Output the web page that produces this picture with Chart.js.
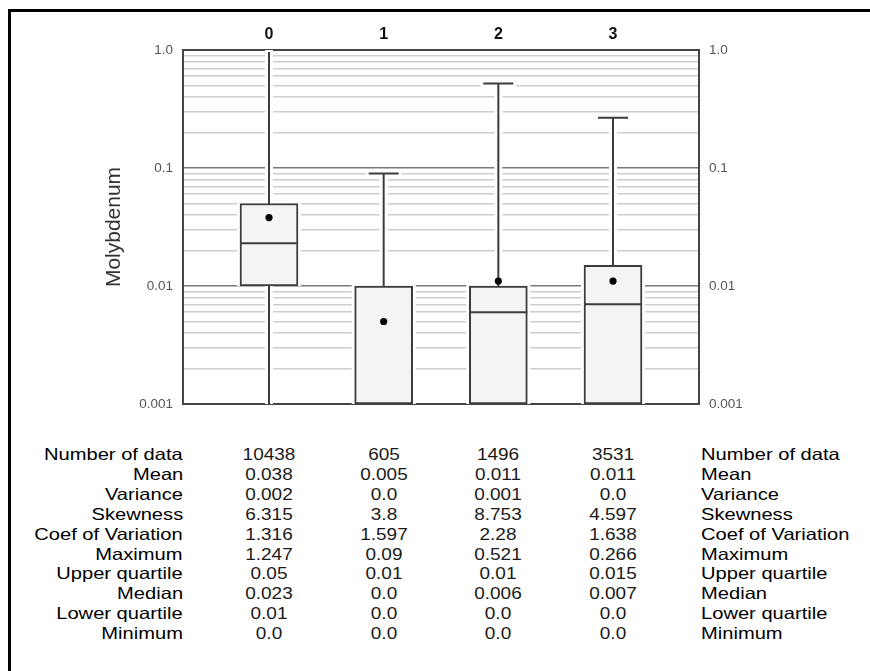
<!DOCTYPE html>
<html>
<head>
<meta charset="utf-8">
<script src="https://cdn.jsdelivr.net/npm/chart.js@4.4.1/dist/chart.umd.min.js"></script>
<style>
    html, body { margin: 0; padding: 0; background: #fff; }
    body { width: 870px; height: 671px; position: relative; overflow: hidden; font-family: "Liberation Sans", Arial, sans-serif; }
    #frame { position: absolute; left: 8px; top: 9px; width: 900px; height: 700px; border-top: 3px solid #000; border-left: 3px solid #000; }
    #chartBox { position: absolute; left: 0; top: 0; width: 870px; height: 430px; }
    .stat { position: absolute; font-size: 16.5px; color: #000; white-space: nowrap; line-height: 20px; }
    .stat.right { transform: scaleX(1.22); transform-origin: right center; }
    .stat.left { transform: scaleX(1.22); transform-origin: left center; }
    .stat.center { transform: scaleX(1.15); transform-origin: center center; color: #1a1a1a; }
</style>
</head>
<body>
<div id="frame"></div>
<div id="chartBox"><canvas id="boxChart" width="870" height="430"></canvas></div>
<div id="statTable"></div>
<script>
const categories = ["0", "1", "2", "3"];
const maximum = [1.247, 0.09, 0.521, 0.266];
const upperQuartile = [0.05, 0.01, 0.01, 0.015];
const median = [0.023, 0.0, 0.006, 0.007];
const lowerQuartile = [0.01, 0.0, 0.0, 0.0];
const minimum = [0.0, 0.0, 0.0, 0.0];
const mean = [0.038, 0.005, 0.011, 0.011];
const numberOfData = [10438, 605, 1496, 3531];
const variance = [0.002, 0.0, 0.001, 0.0];
const skewness = [6.315, 3.8, 8.753, 4.597];
const coefOfVariation = [1.316, 1.597, 2.28, 1.638];

const yTickValues = [0.001, 0.01, 0.1, 1];
const yTickLabels = ["0.001", "0.01", "0.1", "1.0"];
const yAxisTitle = "Molybdenum";

const statRows = [
    ["Number of data", numberOfData],
    ["Mean", mean],
    ["Variance", variance],
    ["Skewness", skewness],
    ["Coef of Variation", coefOfVariation],
    ["Maximum", maximum],
    ["Upper quartile", upperQuartile],
    ["Median", median],
    ["Lower quartile", lowerQuartile],
    ["Minimum", minimum],
];

Chart.defaults.font.family = "'Liberation Sans', Arial, sans-serif";

const yMin = yTickValues[0];
const yMax = yTickValues[yTickValues.length - 1];
const clampY = (v) => Math.min(Math.max(v, yMin), yMax);

// decades plus the 2..9 steps between them, for the grid
const gridValues = [];
yTickValues.forEach((decade, i) => {
    gridValues.push(decade);
    if (i < yTickValues.length - 1) {
        for (let k = 2; k <= 9; k++) gridValues.push(+(decade * k).toPrecision(3));
    }
});

function tickLabel(value) {
    const idx = yTickValues.indexOf(value);
    return idx >= 0 ? yTickLabels[idx] : "";
}

function formatStat(value, isCount) {
    if (isCount) return String(value);
    return Number.isInteger(value) ? value.toFixed(1) : String(value);
}

const BOX_WIDTH = 58;
const CAP_WIDTH = 30;
const LINE_COLOR = "#3c3c3c";

const whiskerPlugin = {
    id: "whiskers",
    beforeDatasetsDraw(chart) {
        const { ctx, chartArea, scales } = chart;
        const { x, y } = scales;
        ctx.save();
        ctx.beginPath();
        ctx.rect(chartArea.left, chartArea.top, chartArea.right - chartArea.left, chartArea.bottom - chartArea.top);
        ctx.clip();

        categories.forEach((cat, i) => {
            const cx = x.getPixelForValue(i);
            const yTop = Math.max(y.getPixelForValue(clampY(maximum[i])), chartArea.top + 2);
            const yBottom = y.getPixelForValue(clampY(minimum[i]));
            const boxTop = y.getPixelForValue(clampY(upperQuartile[i]));
            const boxBottom = y.getPixelForValue(clampY(lowerQuartile[i]));

            // white gaps round the marks, cutting the grid
            ctx.fillStyle = "#fff";
            ctx.fillRect(cx - 4, yTop - 3, 8, yBottom - yTop + 3);
            ctx.fillRect(cx - BOX_WIDTH / 2 - 3, boxTop - 3, BOX_WIDTH + 6, boxBottom - boxTop + 3);
            if (maximum[i] <= yMax) {
                ctx.fillRect(cx - CAP_WIDTH / 2 - 3, yTop - 4, CAP_WIDTH + 6, 8);
            }

            ctx.strokeStyle = LINE_COLOR;
            ctx.lineWidth = 2;
            ctx.beginPath();
            ctx.moveTo(cx, yTop);
            ctx.lineTo(cx, yBottom);
            if (maximum[i] <= yMax) {
                ctx.moveTo(cx - CAP_WIDTH / 2, yTop);
                ctx.lineTo(cx + CAP_WIDTH / 2, yTop);
            }
            ctx.stroke();
        });
        ctx.restore();
    },
    afterDatasetsDraw(chart) {
        const { ctx, scales } = chart;
        const { x, y } = scales;
        ctx.save();
        ctx.strokeStyle = LINE_COLOR;
        ctx.lineWidth = 2;
        categories.forEach((cat, i) => {
            if (median[i] <= yMin) return;
            const cx = x.getPixelForValue(i);
            const my = y.getPixelForValue(median[i]);
            ctx.beginPath();
            ctx.moveTo(cx - BOX_WIDTH / 2, my);
            ctx.lineTo(cx + BOX_WIDTH / 2, my);
            ctx.stroke();
        });
        ctx.restore();
    },
};

function gridColor(ctx) {
    const v = ctx.tick ? ctx.tick.value : null;
    if (v === yMin || v === yMax) return "#444";
    if (yTickValues.includes(v)) return "#7a7a7a";
    return "#cdcdcd";
}

function gridWidth(ctx) {
    const v = ctx.tick ? ctx.tick.value : null;
    if (v === yMin || v === yMax) return 2;
    return 1.5;
}

const chart = new Chart(document.getElementById("boxChart"), {
    type: "bar",
    data: {
        datasets: [
            {
                type: "scatter",
                label: "Mean",
                data: categories.map((c, i) => ({ x: i, y: mean[i] })),
                pointRadius: 3.6,
                pointBackgroundColor: "#000",
                pointBorderWidth: 0,
                order: 0,
            },
            {
                type: "bar",
                label: "Quartiles",
                data: categories.map((c, i) => ({ x: i, y: [clampY(lowerQuartile[i]), clampY(upperQuartile[i])] })),
                backgroundColor: "#f4f4f4",
                borderColor: LINE_COLOR,
                borderWidth: 2,
                borderSkipped: false,
                barThickness: BOX_WIDTH,
                order: 1,
            },
        ],
    },
    options: {
        responsive: false,
        animation: false,
        layout: { padding: { left: 0, right: 0, top: 0, bottom: 26 } },
        plugins: { legend: { display: false }, tooltip: { enabled: false } },
        scales: {
            x: {
                type: "linear",
                position: "top",
                min: -0.75,
                max: 3.75,
                offset: false,
                afterBuildTicks: (scale) => {
                    scale.ticks = categories.map((c, i) => ({ value: i }));
                },
                afterFit: (scale) => { scale.height = 50; },
                ticks: {
                    callback: (v) => categories[v] ?? "",
                    color: "#111",
                    font: { size: 16, weight: "bold" },
                    padding: 6,
                    maxRotation: 0,
                    autoSkip: false,
                },
                grid: { display: false, drawTicks: false },
                border: { display: true, color: "#444", width: 2 },
            },
            y: {
                type: "logarithmic",
                position: "left",
                min: yMin,
                max: yMax,
                afterBuildTicks: (scale) => {
                    scale.ticks = gridValues.map((v) => ({ value: v }));
                },
                afterFit: (scale) => { scale.width = 183; },
                ticks: {
                    callback: (v) => tickLabel(v),
                    color: "#555",
                    font: { size: 13.5 },
                    padding: 10,
                    autoSkip: false,
                },
                grid: { color: gridColor, lineWidth: gridWidth, drawTicks: false },
                border: { display: true, color: "#444", width: 2 },
                title: {
                    display: true,
                    text: yAxisTitle,
                    color: "#333",
                    font: { size: 21 },
                    padding: { top: 102, bottom: 0 },
                },
            },
            y2: {
                type: "logarithmic",
                position: "right",
                min: yMin,
                max: yMax,
                afterBuildTicks: (scale) => {
                    scale.ticks = yTickValues.map((v) => ({ value: v }));
                },
                afterFit: (scale) => { scale.width = 171; },
                ticks: {
                    callback: (v) => tickLabel(v),
                    color: "#555",
                    font: { size: 13.5 },
                    padding: 10,
                    autoSkip: false,
                },
                grid: { display: false, drawTicks: false },
                border: { display: true, color: "#444", width: 2 },
            },
        },
    },
    plugins: [whiskerPlugin],
});

// statistics table under the plot, columns follow the x scale
const statTable = document.getElementById("statTable");
const xScale = chart.scales.x;
const ROW_TOP = 454;
const ROW_STEP = 19.9;

function addCell(text, y, left, align) {
    const node = document.createElement("div");
    node.className = `stat ${align}`;
    node.textContent = text;
    node.style.top = `${y - 10}px`;
    if (align === "right") {
        node.style.right = `${870 - left}px`;
    } else if (align === "center") {
        node.style.left = `${left - 60}px`;
        node.style.width = "120px";
        node.style.textAlign = "center";
    } else {
        node.style.left = `${left}px`;
    }
    statTable.appendChild(node);
}

statRows.forEach(([label, values], r) => {
    const y = ROW_TOP + r * ROW_STEP;
    addCell(label, y, chart.chartArea.left, "right");
    values.forEach((v, i) => addCell(formatStat(v, r === 0), y, xScale.getPixelForValue(i), "center"));
    addCell(label, y, chart.chartArea.right + 2, "left");
});
</script>
</body>
</html>
